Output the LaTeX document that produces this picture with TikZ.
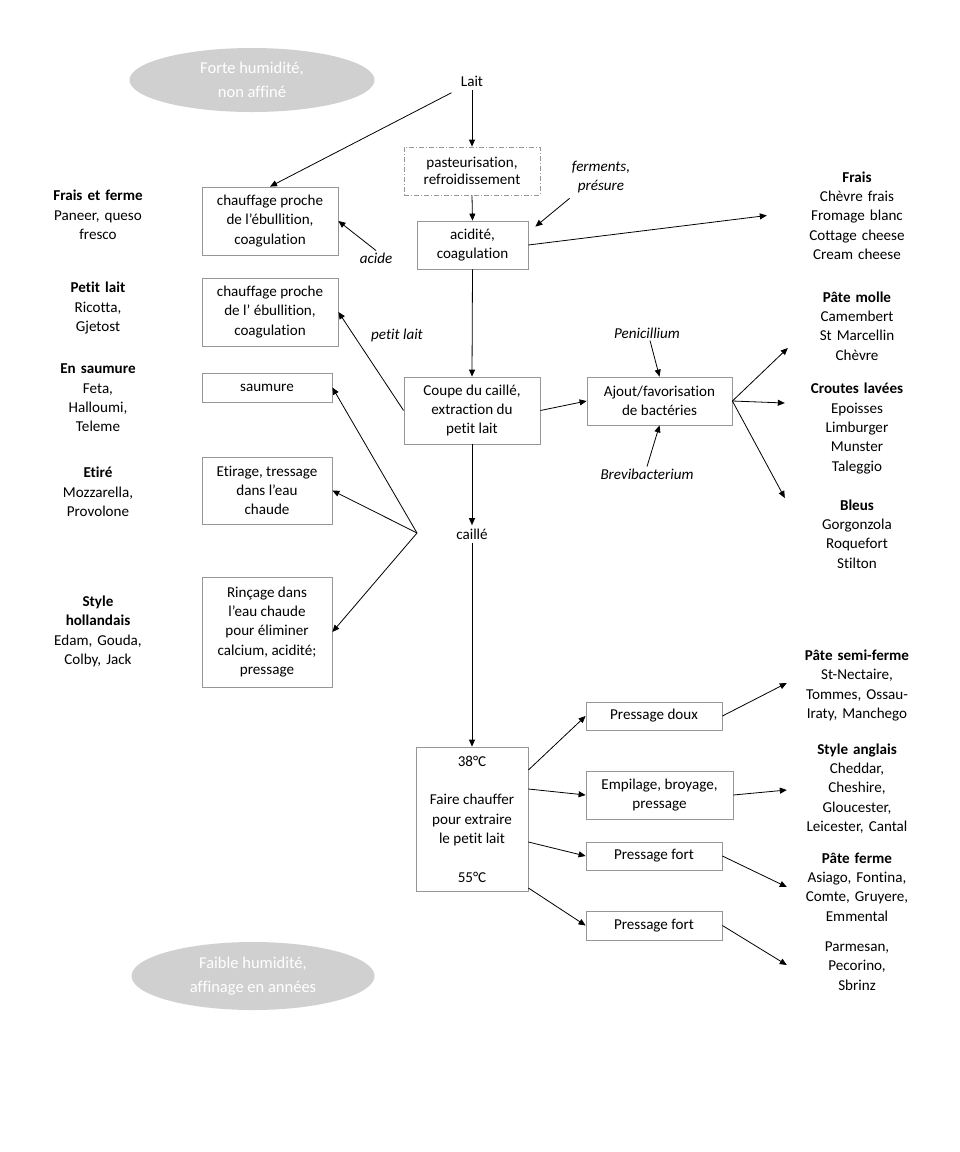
\documentclass[tikz,border=0pt]{standalone}
\usepackage{fontspec}
\setmainfont{Carlito}[Ligatures=NoCommon]
\usetikzlibrary{arrows.meta,shapes.geometric}
\definecolor{boxgray}{RGB}{150,150,150}
\definecolor{blobgray}{RGB}{208,208,208}
\frenchspacing

\begin{document}
\begin{tikzpicture}[x=1pt, y=-1pt,
    font=\fontsize{15.1}{19.3}\selectfont,
    stepbox/.style={draw=boxgray, line width=0.8pt, align=center, inner sep=0pt},
    blob/.style={ellipse, fill=blobgray, text=white, inner sep=0pt, align=center,
        font=\fontsize{16.5}{24.5}\selectfont},
    lblock/.style={text width=110pt, align=center, inner sep=0pt},
    rblock/.style={text width=120pt, align=center, inner sep=0pt},
    lbl/.style={font=\fontsize{15.1}{19.3}\selectfont\itshape, align=center, inner sep=2pt},
    arr/.style={-{Triangle[length=7pt,width=6pt]}, line width=0.8pt}]
    \useasboundingbox (0,0) rectangle (960,1152);

    \node (forte) [blob, minimum width=245pt, minimum height=64pt] at (252, 80) {Forte humidité,\\non affiné};
    \node (faible) [blob, minimum width=243pt, minimum height=68pt] at (253, 976) {Faible humidité,\\affinage en années};

    % centre column
    \node (lait) at (472, 81) {Lait};
    \node (past) [stepbox, dash pattern=on 5pt off 2pt on 1pt off 2pt, minimum width=136pt, minimum height=48pt] at (472, 171) {pasteurisation,\\[-3pt]refroidissement};
    \node (acid) [stepbox, minimum width=111pt, minimum height=48pt] at (472.5, 245) {acidité,\\coagulation};
    \node (coupe) [stepbox, minimum width=136pt, minimum height=67pt] at (472, 410.5) {Coupe du caillé,\\extraction du\\petit lait};
    \node (ajout) [stepbox, minimum width=145pt, minimum height=48pt] at (659.5, 401) {Ajout/favorisation\\de bactéries};
    \node (caille) at (472, 534) {caillé};
    \coordinate (split) at (417, 533);
    \node (heat) [stepbox, minimum width=112pt, minimum height=144pt] at (472, 819) {38°C\\[19.3pt]Faire chauffer\\pour extraire\\le petit lait\\[19.3pt]55°C};

    % left boxes
    \node (chauf1) [stepbox, minimum width=136pt, minimum height=68pt] at (270, 221) {chauffage proche\\de l’ébullition,\\coagulation};
    \node (chauf2) [stepbox, minimum width=136pt, minimum height=68pt] at (270, 312) {chauffage proche\\de l’ ébullition,\\coagulation};
    \node (saum) [stepbox, minimum width=130pt, minimum height=29pt] at (267, 387.5) {saumure};
    \node (etir) [stepbox, minimum width=130pt, minimum height=67pt] at (267, 490.5) {Etirage, tressage\\dans l’eau\\chaude};
    \node (rinc) [stepbox, minimum width=130pt, minimum height=110pt] at (267, 632) {Rinçage dans\\l’eau chaude\\pour éliminer\\calcium, acidité;\\pressage};

    % right boxes
    \node (doux) [stepbox, minimum width=136pt, minimum height=28pt] at (654, 716) {Pressage doux};
    \node (empil) [stepbox, minimum width=147pt, minimum height=48pt] at (659.5, 795) {Empilage, broyage,\\pressage};
    \node (fort1) [stepbox, minimum width=136pt, minimum height=28pt] at (654, 856) {Pressage fort};
    \node (fort2) [stepbox, minimum width=136pt, minimum height=29pt] at (654, 925.5) {Pressage fort};

    % small labels
    \node (ferm) [lbl] at (601, 177) {ferments,\\présure};
    \node (acidel) [lbl] at (376, 258) {acide};
    \node (petitl) [lbl] at (397, 335) {petit lait};
    \node (penic) [lbl] at (647, 333) {Penicillium};
    \node (brevi) [lbl] at (647, 474) {Brevibacterium};

    % cheese families, left
    \node (fraisf) [lblock] at (98, 215) {\textbf{Frais et ferme}\\Paneer, queso\\fresco};
    \node (petitb) [lblock] at (98, 308) {\textbf{Petit lait}\\Ricotta,\\Gjetost};
    \node (saumb) [lblock] at (98, 398) {\textbf{En saumure}\\Feta,\\Halloumi,\\Teleme};
    \node (etireb) [lblock] at (98, 492) {\textbf{Etiré}\\Mozzarella,\\Provolone};
    \node (hollb) [lblock] at (98, 631.5) {\textbf{Style}\\\textbf{hollandais}\\Edam, Gouda,\\Colby, Jack};

    % cheese families, right
    \node (fraisb) [rblock] at (857, 215.5) {\textbf{Frais}\\Chèvre frais\\Fromage blanc\\Cottage cheese\\Cream cheese};
    \node (molleb) [rblock] at (857, 326) {\textbf{Pâte molle}\\Camembert\\St Marcellin\\Chèvre};
    \node (croutb) [rblock] at (857, 428.5) {\textbf{Croutes lavées}\\Epoisses\\Limburger\\Munster\\Taleggio};
    \node (bleusb) [rblock] at (857, 534) {\textbf{Bleus}\\Gorgonzola\\Roquefort\\Stilton};
    \node (semib) [rblock] at (857, 685.5) {\textbf{Pâte semi-ferme}\\St-Nectaire,\\Tommes, Ossau-\\Iraty, Manchego};
    \node (anglb) [rblock] at (857, 788.5) {\textbf{Style anglais}\\Cheddar,\\Cheshire,\\Gloucester,\\Leicester, Cantal};
    \node (fermeb) [rblock] at (857, 887) {\textbf{Pâte ferme}\\Asiago, Fontina,\\Comte, Gruyere,\\Emmental};
    \node (parmb) [rblock] at (857, 966) {Parmesan,\\Pecorino,\\Sbrinz};

    % main path
    \draw[arr] (lait.south) -- (past.north);
    \draw[arr] (past.south) -- (acid.north);
    \draw[arr] (acid.south) -- (coupe.north);
    \draw[arr] (coupe.south) -- (caille.north);
    \draw[arr] (caille.south) -- (heat.north);
    \draw[arr] ([xshift=-6pt,yshift=-3pt]lait.south west) -- (chauf1.north);
    \draw[arr] ([xshift=0pt,yshift=-3pt]ferm.south west) -- ([xshift=7pt,yshift=-6pt]acid.north east);
    \draw[arr] (acid.east) -- ([xshift=-30pt]fraisb.west);
    \draw[arr] (acidel.north) -- (chauf1.east);
    \draw[arr] (coupe.west) -- (chauf2.east);
    \draw[arr] (coupe.east) -- (ajout.west);
    \draw[arr] ([xshift=3pt]penic.south) -- (ajout.north);
    \draw[arr] (brevi.north) -- (ajout.south);

    % mould and washed rinds
    \draw[arr] (ajout.east) -- ([xshift=-9pt,yshift=-22pt]molleb.west);
    \draw[arr] (ajout.east) -- ([xshift=-12pt,yshift=25.5pt]croutb.west);
    \draw[arr] (ajout.east) -- ([xshift=-12pt,yshift=36pt]bleusb.west);

    % curd treatments
    \draw[arr] (split) -- (saum.east);
    \draw[arr] (split) -- (etir.east);
    \draw[arr] (split) -- (rinc.east);

    % pressing
    \draw[arr] ([yshift=49pt]heat.east) -- (doux.west);
    \draw[arr] ([yshift=30pt]heat.east) -- (empil.west);
    \draw[arr] ([yshift=-23pt]heat.east) -- (fort1.west);
    \draw[arr] ([yshift=-69pt]heat.east) -- (fort2.west);
    \draw[arr] (doux.east) -- ([xshift=-10pt,yshift=2.5pt]semib.west);
    \draw[arr] (empil.east) -- ([xshift=-10pt,yshift=-1.5pt]anglb.west);
    \draw[arr] (fort1.east) -- ([xshift=-10pt]fermeb.west);
    \draw[arr] (fort2.east) -- ([xshift=-10pt,yshift=1pt]parmb.west);
\end{tikzpicture}
\end{document}
